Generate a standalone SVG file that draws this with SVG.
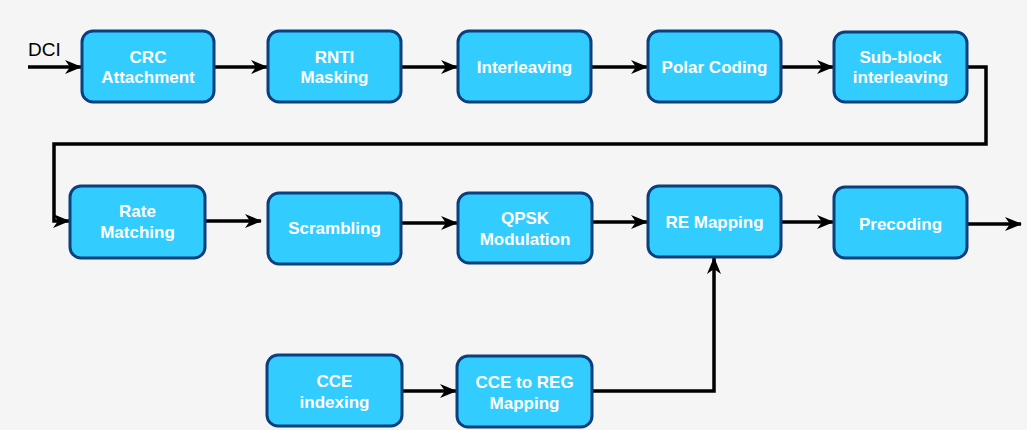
<svg xmlns="http://www.w3.org/2000/svg" width="1027" height="430" viewBox="0 0 1027 430">
<defs>
<style>
.box{fill:#33CCFF;stroke:#0B3F7E;stroke-width:3}
.t{font-family:"Liberation Sans",Arial,sans-serif;font-weight:bold;font-size:17px;fill:#fff;text-anchor:middle}
.c{fill:none;stroke:#000;stroke-width:3.5}
</style>
<marker id="ah" markerUnits="userSpaceOnUse" markerWidth="18" markerHeight="18" viewBox="0 0 18 18" refX="17" refY="9" orient="auto">
<path d="M1,2 L18,9 L1,16 L6,9 Z" fill="#000"/>
</marker>
</defs>
<rect width="1027" height="430" fill="#f5f5f5"/>
<text x="28" y="56" style="font-family:'Liberation Sans',Arial,sans-serif;font-size:19px;fill:#000">DCI</text>
<g id="connectors">
<path class="c" d="M28,67 H81" marker-end="url(#ah)"/>
<path class="c" d="M214,67 H267" marker-end="url(#ah)"/>
<path class="c" d="M401,67 H457" marker-end="url(#ah)"/>
<path class="c" d="M591,67 H647" marker-end="url(#ah)"/>
<path class="c" d="M781,67 H833" marker-end="url(#ah)"/>
<path class="c" d="M967,67 H986 V144 H54 V221 H69" marker-end="url(#ah)"/>
<path class="c" d="M205,221 H261" marker-end="url(#ah)"/>
<path class="c" d="M401,223 H457" marker-end="url(#ah)"/>
<path class="c" d="M592,222 H647" marker-end="url(#ah)"/>
<path class="c" d="M781,222 H833" marker-end="url(#ah)"/>
<path class="c" d="M967,224 H1021" marker-end="url(#ah)"/>
<path class="c" d="M402,391 H456" marker-end="url(#ah)"/>
<path class="c" d="M592,391 H714 V258" marker-end="url(#ah)"/>
</g>
<g id="crc"><rect class="box" x="82" y="31" width="132" height="71" rx="11"/><text class="t" x="148" y="63">CRC</text><text class="t" x="148" y="83">Attachment</text></g>
<g id="rnti"><rect class="box" x="268" y="31" width="133" height="71" rx="11"/><text class="t" x="334.5" y="63">RNTI</text><text class="t" x="334.5" y="83">Masking</text></g>
<g id="interleaving"><rect class="box" x="458" y="31" width="133" height="71" rx="11"/><text class="t" x="524.5" y="73">Interleaving</text></g>
<g id="polar"><rect class="box" x="648" y="31" width="133" height="71" rx="11"/><text class="t" x="714.5" y="73">Polar Coding</text></g>
<g id="subblock"><rect class="box" x="834" y="32" width="133" height="70" rx="11"/><text class="t" x="900.5" y="63">Sub-block</text><text class="t" x="900.5" y="83">interleaving</text></g>
<g id="rate"><rect class="box" x="70" y="186" width="135" height="72" rx="11"/><text class="t" x="137.5" y="217">Rate</text><text class="t" x="137.5" y="238">Matching</text></g>
<g id="scrambling"><rect class="box" x="268" y="193" width="133" height="71" rx="11"/><text class="t" x="334.5" y="234">Scrambling</text></g>
<g id="qpsk"><rect class="box" x="458" y="193" width="134" height="70" rx="11"/><text class="t" x="525" y="224">QPSK</text><text class="t" x="525" y="245">Modulation</text></g>
<g id="remapping"><rect class="box" x="648" y="186" width="133" height="71" rx="11"/><text class="t" x="714.5" y="228">RE Mapping</text></g>
<g id="precoding"><rect class="box" x="834" y="187" width="133" height="71" rx="11"/><text class="t" x="900.5" y="230">Precoding</text></g>
<g id="cceindex"><rect class="box" x="267" y="355" width="135" height="71" rx="11"/><text class="t" x="334.5" y="387">CCE</text><text class="t" x="334.5" y="408">indexing</text></g>
<g id="ccereg"><rect class="box" x="457" y="356" width="135" height="71" rx="11"/><text class="t" x="524.5" y="388">CCE to REG</text><text class="t" x="524.5" y="409">Mapping</text></g>
</svg>
